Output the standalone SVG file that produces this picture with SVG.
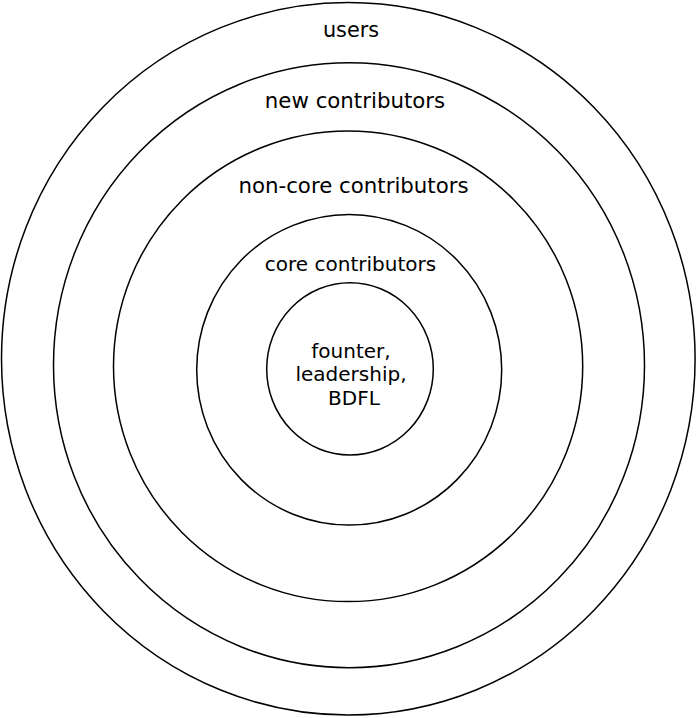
<svg xmlns="http://www.w3.org/2000/svg" width="698" height="718" viewBox="0 0 698 718">
<style>
.ring{fill:none;stroke:#000;stroke-width:1.5}
.lbl{font-family:"DejaVu Sans",sans-serif;font-size:21.3px;fill:#000;text-anchor:middle}
.in{font-size:20px}
</style>
<rect width="698" height="718" fill="#fff"/>
<g id="users">
<ellipse class="ring" cx="348.3" cy="358.8" rx="346.8" ry="356.2"/>
<text class="lbl" x="351" y="37" style="font-size:20.8px">users</text>
</g>
<g id="new-contributors">
<ellipse class="ring" cx="349" cy="365.2" rx="295.5" ry="302.5"/>
<text class="lbl" x="355" y="108">new contributors</text>
</g>
<g id="non-core-contributors">
<ellipse class="ring" cx="348.1" cy="366.3" rx="234.6" ry="235.3"/>
<text class="lbl" x="353.5" y="193">non-core contributors</text>
</g>
<g id="core-contributors">
<ellipse class="ring" cx="349.2" cy="369.8" rx="152.5" ry="155.3"/>
<text class="lbl in" x="350.5" y="271">core contributors</text>
</g>
<g id="founder">
<ellipse class="ring" cx="350" cy="368.9" rx="83.3" ry="86.2"/>
<text class="lbl in" x="351" y="357.5">founter,</text>
<text class="lbl in" x="351" y="381">leadership,</text>
<text class="lbl in" x="354" y="405">BDFL</text>
</g>
<g id="connectors"/>
</svg>
